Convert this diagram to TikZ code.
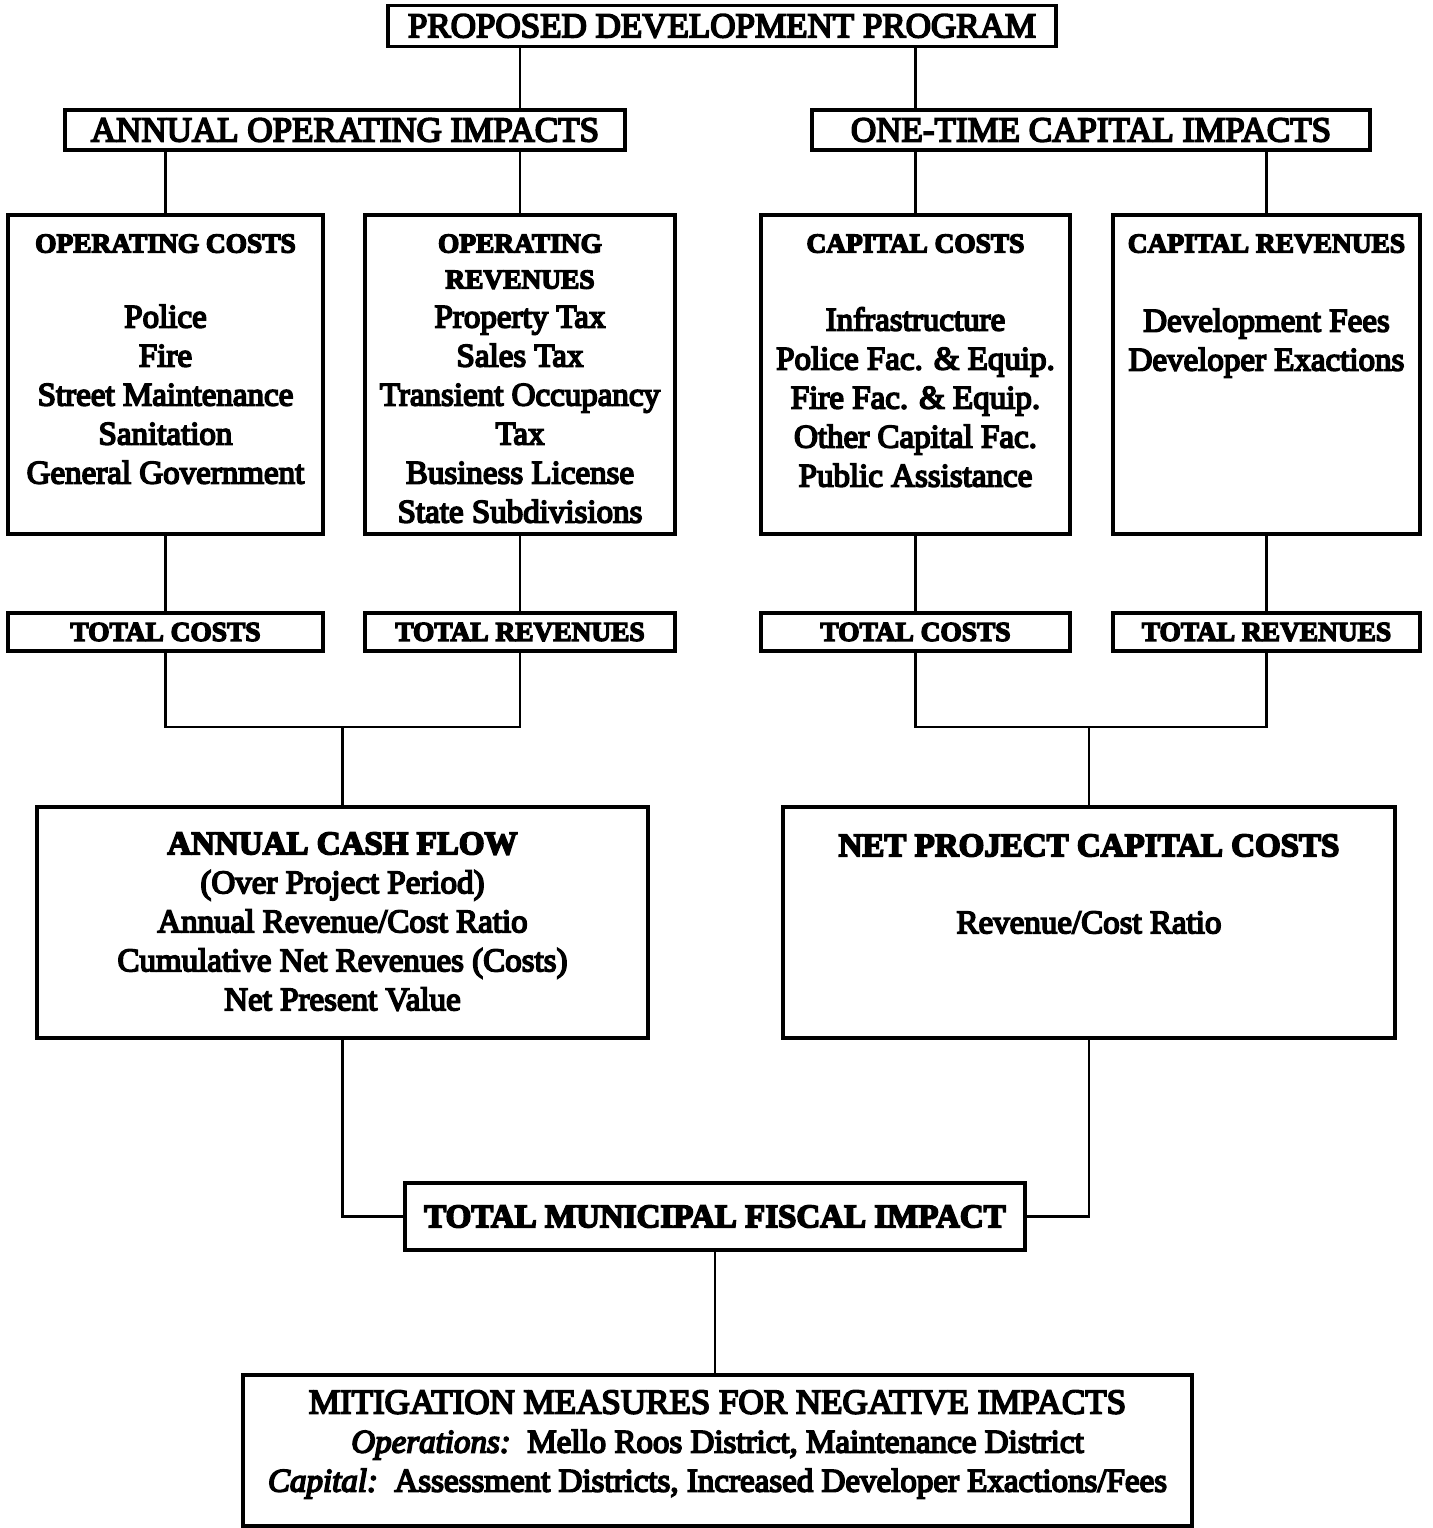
\documentclass[tikz,border=0pt]{standalone}
\usepackage{fontspec}
\setmainfont{Liberation Serif}[FakeBold=5]
\newfontfamily\heavyrm{Liberation Serif}[FakeBold=5]
\newfontfamily\heavyit{Liberation Serif Italic}[FakeBold=5]
\newcommand\hdfont{\bfseries\fontsize{13.7}{18}\selectfont}
\newcommand\bigbold{\bfseries\fontsize{16.5}{19.5}\selectfont}
\newcommand\titlefont{\fontsize{17.5}{19.5}\selectfont}
\begin{document}
\begin{tikzpicture}[x=0.5pt,y=-0.5pt,
  frame/.style 2 args={draw, line width=1.6pt, inner sep=0pt,
    minimum width=#1*0.5pt, minimum height=#2*0.5pt},
  ttl/.style={font=\titlefont},
  tot/.style={font=\hdfont},
  body/.style={font=\fontsize{16.5}{19.5}\selectfont, align=center,
    inner sep=0pt, anchor=north},
  link/.style={line width=1.3pt}]
\useasboundingbox (0,0) rectangle (1432,1528);
\fill[white] (0,0) rectangle (1432,1528);

% top level
\node[frame={668}{41}, ttl] (pdp) at (722,26) {PROPOSED DEVELOPMENT PROGRAM};
\node[frame={560}{40}, ttl] (aoi) at (345,130) {ANNUAL OPERATING IMPACTS};
\node[frame={558}{40}, ttl] (oti) at (1091,130) {ONE-TIME CAPITAL IMPACTS};

% detail boxes
\node[frame={315}{319}] (oc)  at (165.5,374.5) {};
\node[frame={310}{319}] (orv) at (520,374.5) {};
\node[frame={309}{319}] (cc)  at (915.5,374.5) {};
\node[frame={307}{319}] (cr)  at (1266.5,374.5) {};

\node[body] (oct) at (165.5,234) {{\hdfont OPERATING COSTS}\\[18pt]
  Police\\Fire\\Street Maintenance\\Sanitation\\General Government};
\node[body] (orvt) at (520,234) {{\hdfont OPERATING}\\[-1.5pt]{\hdfont REVENUES}\\
  Property Tax\\Sales Tax\\Transient Occupancy\\Tax\\Business License\\State Subdivisions};
\node[body] (cct) at (915.5,234) {{\hdfont CAPITAL COSTS}\\[19.5pt]
  Infrastructure\\Police Fac. \& Equip.\\Fire Fac. \& Equip.\\Other Capital Fac.\\Public Assistance};
\node[body] (crt) at (1266.5,234) {{\hdfont CAPITAL REVENUES}\\[20pt]
  Development Fees\\Developer Exactions};

% totals
\node[frame={315}{38}, tot] (tc1) at (165.5,632) {TOTAL COSTS};
\node[frame={310}{38}, tot] (tr1) at (520,632) {TOTAL REVENUES};
\node[frame={309}{38}, tot] (tc2) at (915.5,632) {TOTAL COSTS};
\node[frame={307}{38}, tot] (tr2) at (1266.5,632) {TOTAL REVENUES};

% results
\node[frame={611}{231}] (acf) at (342.5,922.5) {};
\node[frame={612}{231}] (net) at (1089,922.5) {};
\node[body] (acft) at (342.5,832) {{\bigbold ANNUAL CASH FLOW}\\(Over Project Period)\\
  Annual Revenue/Cost Ratio\\Cumulative Net Revenues (Costs)\\Net Present Value};
\node[body] (nett) at (1089,834) {{\bigbold NET PROJECT CAPITAL COSTS}\\[19pt]Revenue/Cost Ratio};

\node[frame={620}{67}, font=\bigbold] (tmf) at (715,1216.5) {TOTAL MUNICIPAL FISCAL IMPACT};

% mitigation box, each line set in the emboldened families explicitly
\node[frame={949}{151}] (mit) at (717.5,1450.5) {};
\node[body, font=\heavyrm\fontsize{16.5}{19.5}\selectfont] (mitt) at (717.5,1390)
  {{\heavyrm\titlefont MITIGATION MEASURES FOR NEGATIVE IMPACTS}\\
  {\heavyit Operations:}\ \ {\heavyrm Mello Roos District, Maintenance District}\\
  {\heavyit Capital:}\ \ {\heavyrm Assessment Districts, Increased Developer Exactions/Fees}};

% junction points
\coordinate (jl) at (342.5,727);
\coordinate (jr) at (1089,727);

% connectors
\draw[link] (pdp.south -| orv.north) -- (aoi.north -| orv.north);
\draw[link] (pdp.south -| cc.north) -- (oti.north -| cc.north);
\draw[link] (aoi.south -| oc.north) -- (oc.north);
\draw[link] (aoi.south -| orv.north) -- (orv.north);
\draw[link] (oti.south -| cc.north) -- (cc.north);
\draw[link] (oti.south -| cr.north) -- (cr.north);
\draw[link] (oc.south) -- (tc1.north);
\draw[link] (orv.south) -- (tr1.north);
\draw[link] (cc.south) -- (tc2.north);
\draw[link] (cr.south) -- (tr2.north);
\draw[link] (tc1.south) -- (tc1.south |- jl) -- (tr1.south |- jl) -- (tr1.south);
\draw[link] (tc2.south) -- (tc2.south |- jr) -- (tr2.south |- jr) -- (tr2.south);
\draw[link] (jl) -- (acf.north);
\draw[link] (jr) -- (net.north);
\draw[link] (acf.south) |- (tmf.west);
\draw[link] (net.south) |- (tmf.east);
\draw[link] (tmf.south) -- (tmf.south |- mit.north);
\end{tikzpicture}
\end{document}
